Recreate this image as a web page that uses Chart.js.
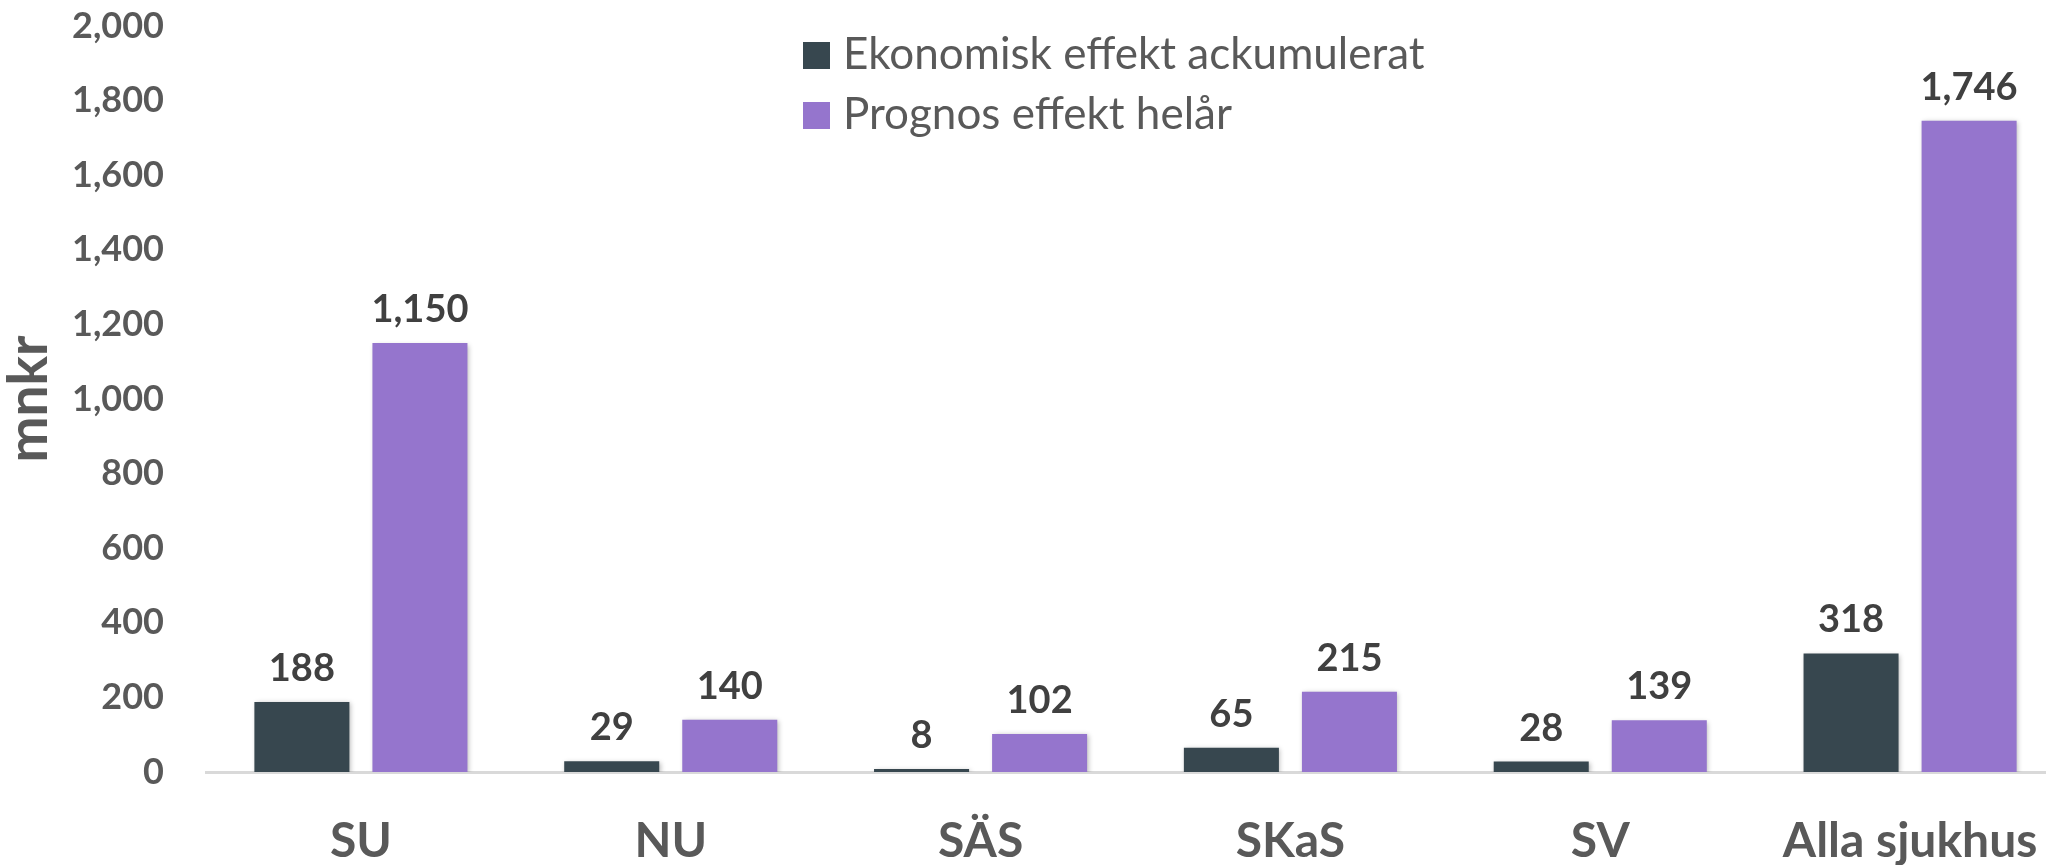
<!DOCTYPE html>
<html>
<head>
<meta charset="utf-8">
<script src="https://cdn.jsdelivr.net/npm/chart.js@4.4.1/dist/chart.umd.min.js"></script>
<style>
  html, body { margin: 0; padding: 0; background: #ffffff; overflow: hidden; width: 2046px; height: 865px; }
  #wrap { position: relative; width: 2070px; height: 865px; }
  #legend { position: absolute; left: 803px; top: 0; font-family: Lato, "Noto Sans", sans-serif; font-size: 44px; color: #595959; }
  .item { position: absolute; left: 0; display: flex; align-items: center; height: 60px; white-space: nowrap; }
  .box { width: 27px; height: 27px; margin-right: 13px; flex: none; position: relative; top: 3px; }
</style>
</head>
<body>
<div id="wrap">
  <canvas id="chart" width="2070" height="865"></canvas>
  <div id="legend"></div>
</div>
<script>
// ---- Data ----
const categories = ["SU", "NU", "SÄS", "SKaS", "SV", "Alla sjukhus"];
const seriesNames = ["Ekonomisk effekt ackumulerat", "Prognos effekt helår"];
const ekonomiskEffekt = [188, 29, 8, 65, 28, 318];
const prognosEffekt = [1150, 140, 102, 215, 139, 1746];
const yTickValues = [0, 200, 400, 600, 800, 1000, 1200, 1400, 1600, 1800, 2000];
const yAxisTitle = "mnkr";

const colors = ["#37474f", "#9575cd"];
const FONT = 'Lato, "Noto Sans", sans-serif';
const fmt = v => v.toLocaleString('en-US');

const barShadow = {
  id: 'barShadow',
  beforeDatasetDraw(chart) {
    const ctx = chart.ctx;
    ctx.save();
    ctx.shadowColor = 'rgba(0,0,0,0.28)';
    ctx.shadowBlur = 5;
    ctx.shadowOffsetX = 1.5;
    ctx.shadowOffsetY = 1.5;
  },
  afterDatasetDraw(chart) { chart.ctx.restore(); }
};

const dataLabels = {
  id: 'dataLabels',
  afterDatasetsDraw(chart) {
    const ctx = chart.ctx;
    ctx.save();
    ctx.font = 'bold 38px ' + FONT;
    ctx.fillStyle = '#404040';
    ctx.textAlign = 'center';
    ctx.textBaseline = 'alphabetic';
    chart.data.datasets.forEach((ds, i) => {
      chart.getDatasetMeta(i).data.forEach((el, j) => {
        ctx.fillText(fmt(ds.data[j]), el.x, el.y - 21);
      });
    });
    ctx.restore();
  }
};

const chart = new Chart(document.getElementById('chart'), {
  type: 'bar',
  data: {
    labels: categories,
    datasets: [
      { label: seriesNames[0], data: ekonomiskEffekt, backgroundColor: colors[0] },
      { label: seriesNames[1], data: prognosEffekt, backgroundColor: colors[1] }
    ]
  },
  options: {
    responsive: false,
    animation: false,
    devicePixelRatio: 1,
    layout: { padding: { top: 26, right: 5, left: 0, bottom: 0 } },
    datasets: { bar: { categoryPercentage: 0.762, barPercentage: 0.805 } },
    plugins: { legend: { display: false }, tooltip: { enabled: false } },
    scales: {
      x: {
        grid: { display: false, drawTicks: false },
        border: { display: true, color: '#d9d9d9', width: 3 },
        ticks: { padding: 41, maxRotation: 0, autoSkip: false, color: '#595959', font: { family: FONT, size: 48, weight: 'bold' } },
        afterFit(s) { s.height = 93; s.paddingLeft = 0; s.paddingRight = 0; }
      },
      y: {
        min: 0, max: 2000,
        afterBuildTicks(s) { s.ticks = yTickValues.map(v => ({ value: v })); },
        grid: { display: false, drawTicks: false },
        border: { display: false },
        ticks: { padding: 42, color: '#595959', font: { family: FONT, size: 36, weight: 'bold' }, callback: v => fmt(v) },
        title: { display: true, text: yAxisTitle, color: '#595959', font: { family: FONT, size: 55, weight: 'bold', lineHeight: 1 }, padding: { top: 2, bottom: 0 } },
        afterFit(s) { s.width = 206; s.paddingTop = 0; s.paddingBottom = 0; }
      }
    }
  },
  plugins: [barShadow, dataLabels]
});

// HTML legend built from the datasets
const legendEl = document.getElementById('legend');
const legendTops = [22, 82];
chart.data.datasets.forEach((ds, i) => {
  const item = document.createElement('div');
  item.className = 'item';
  item.style.top = legendTops[i] + 'px';
  const box = document.createElement('span');
  box.className = 'box';
  box.style.background = ds.backgroundColor;
  const txt = document.createElement('span');
  txt.textContent = ds.label;
  item.appendChild(box);
  item.appendChild(txt);
  legendEl.appendChild(item);
});
</script>
</body>
</html>
